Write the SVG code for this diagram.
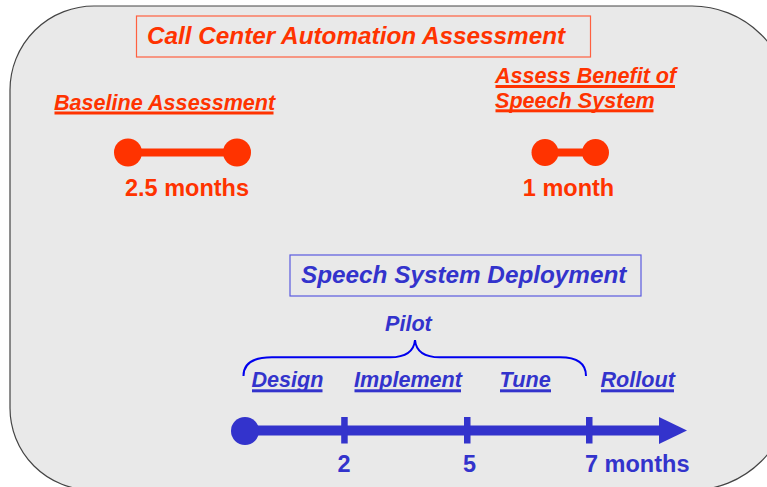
<svg xmlns="http://www.w3.org/2000/svg" width="767" height="487" viewBox="0 0 767 487">
<style>
text{font-family:"Liberation Sans",Arial,sans-serif;font-weight:bold}
.or{fill:#ff3300}
.bl{fill:#3333cc}
.it{font-style:italic}
.lbl{font-size:21.6px}
.big{font-size:24.3px}
.num{font-size:23.5px}
.box-o{fill:none;stroke:#ff6040;stroke-width:1.2}
.box-b{fill:none;stroke:#5a5ae0;stroke-width:1.2}
</style>
<rect width="767" height="487" fill="#ffffff"/>
<path id="panel" d="M 95,6 H 692 A 98 98 0 0 1 790,104 V 392 A 98 98 0 0 1 692,490 H 92 A 82 82 0 0 1 10,408 V 90 A 84 84 0 0 1 95,6 Z" fill="#e9e9e9" stroke="#444" stroke-width="1.2"/>

<g id="title">
<rect class="box-o" x="136.5" y="16" width="454" height="41"/>
<text class="or it big" x="147" y="44">Call Center Automation Assessment</text>
</g>

<g id="baseline">
<text class="or it lbl" x="54" y="109.5">Baseline Assessment</text>
<rect class="or" x="54.5" y="111.5" width="219" height="3"/>
<line x1="128" y1="152.5" x2="237" y2="152.5" stroke="#ff3300" stroke-width="8"/>
<circle class="or" cx="128" cy="152.5" r="14"/>
<circle class="or" cx="237" cy="152.5" r="14"/>
<text class="or num" x="187" y="196" text-anchor="middle">2.5 months</text>
</g>

<g id="benefit">
<text class="or it lbl" x="495" y="83.3">Assess Benefit of</text>
<rect class="or" x="495.5" y="85" width="179.5" height="3"/>
<text class="or it lbl" x="495" y="107.5">Speech System</text>
<rect class="or" x="495.5" y="109.3" width="158" height="3"/>
<line x1="545" y1="152.5" x2="595.5" y2="152.5" stroke="#ff3300" stroke-width="8"/>
<circle class="or" cx="545" cy="152.5" r="13.5"/>
<circle class="or" cx="595.5" cy="152.5" r="13.5"/>
<text class="or num" x="568.5" y="195.5" text-anchor="middle">1 month</text>
</g>

<g id="deployment">
<rect class="box-b" x="290" y="255" width="351" height="41"/>
<text class="bl it big" x="301" y="283">Speech System Deployment</text>
</g>

<g id="pilot">
<text class="bl it lbl" x="385" y="330.5">Pilot</text>
<path d="M 243.5,376 C 243.5,364 252,357.3 272,357.3 L 390,357.3 C 406,357.3 414,351 415,340 C 416,351 424,357.3 440,357.3 L 560,357.3 C 578,357.3 586,364 586,376" fill="none" stroke="#0000ee" stroke-width="2"/>
</g>

<g id="phases">
<text class="bl it lbl" x="251.5" y="386.5">Design</text>
<rect class="bl" x="252" y="389.3" width="70.5" height="3"/>
<text class="bl it lbl" x="354" y="386.5">Implement</text>
<rect class="bl" x="354.5" y="389.3" width="106.5" height="3"/>
<text class="bl it lbl" x="499.5" y="386.5">Tune</text>
<rect class="bl" x="500" y="389.3" width="51" height="3"/>
<text class="bl it lbl" x="600.5" y="386.5">Rollout</text>
<rect class="bl" x="601" y="389.3" width="73" height="3"/>
</g>

<g id="connectors">
<line x1="245" y1="430.5" x2="662" y2="430.5" stroke="#3333cc" stroke-width="10"/>
<polygon class="bl" points="659,417 687,430.5 659,444"/>
<circle class="bl" cx="245" cy="431" r="14"/>
<rect class="bl" x="341.2" y="417" width="6.5" height="26.5"/>
<rect class="bl" x="464" y="417" width="6.5" height="26.5"/>
<rect class="bl" x="586" y="417" width="6.5" height="26.5"/>
</g>

<g id="ticks">
<text class="bl num" x="344" y="472" text-anchor="middle">2</text>
<text class="bl num" x="469.5" y="472" text-anchor="middle">5</text>
<text class="bl num" x="585" y="472">7 months</text>
</g>
</svg>
